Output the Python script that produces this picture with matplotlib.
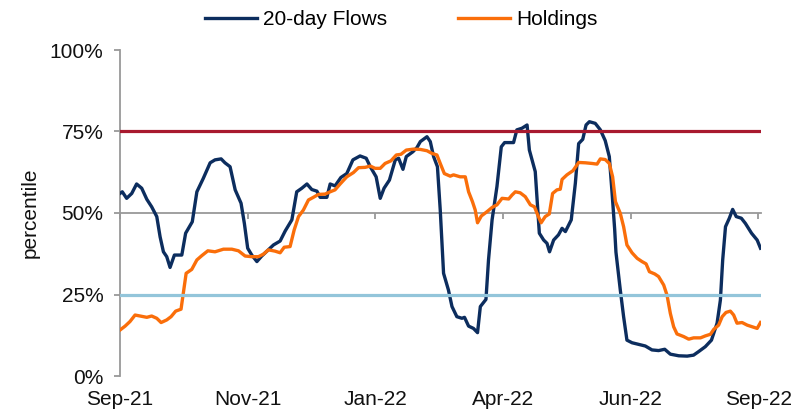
import matplotlib
matplotlib.use("Agg")
import matplotlib.pyplot as plt
from matplotlib.ticker import FuncFormatter

plt.rcParams['font.family'] = ['Liberation Sans', 'DejaVu Sans']

# ---- data (x = trading-day index, y = percentile %) ----
tick_pos = [0, 50, 100, 150, 200, 250]
tick_labels = ["Sep-21", "Nov-21", "Jan-22", "Apr-22", "Jun-22", "Sep-22"]

flows_x = [0, 0.9, 2.6, 4.6, 6.5, 8.5, 10.5, 12.4, 14.4, 15.7, 17, 18.3, 19.6, 21.3, 24.2,
           25.7, 28.3, 30.1, 32.6, 35.3, 37.2, 39.6, 41.1, 43.1, 45.1, 47.4, 48.7, 50, 51.6,
           53.6, 55.5, 58.1, 60.1, 62.7, 64.7, 67.3, 69.2, 71.2, 73.2, 75.1, 77.1, 78.4, 81,
           82.3, 84.2, 86.5, 88.8, 91.2, 94, 96.4, 98, 100.3, 101.9, 103.4, 105.5, 107.8,
           109.1, 110.8, 112.1, 114.7, 116.3, 117.6, 120.2, 121.5, 122.8, 124.3, 125.4, 126.7,
           128.6, 130, 131.9, 133.9, 134.9, 136.5, 138.4, 140, 141.1, 143.3, 144.3, 145.7,
           147.6, 149.3, 150.6, 154.1, 155.4, 157.4, 159.4, 160.3, 162.6, 164.2, 165.9, 167.2,
           168.2, 169.8, 171.7, 173.1, 174.4, 176.7, 178.3, 179.6, 181.2, 182.5, 183.8, 186.1,
           188.1, 190, 191.6, 192.7, 193.7, 194.2, 195.9, 197.2, 198.5, 200.5, 203.1, 205.7,
           208.3, 210.9, 213.3, 215.5, 218.8, 222.1, 224.6, 226.6, 229.2, 231.6, 233.8, 235.1,
           236, 237.1, 238.6, 239.9, 241.3, 243.3, 244.9, 247.3, 249.5, 250.8]
flows_y = [56.0, 56.5, 54.5, 56.0, 58.9, 57.6, 54.2, 51.9, 48.9, 42.7, 38.1, 36.6, 33.3, 37.1, 37.1,
           43.8, 47.3, 56.5, 60.6, 65.4, 66.3, 66.6, 65.4, 64.2, 57.1, 53.0, 46.8, 39.2, 37.1,
           35.1, 36.8, 38.7, 40.2, 41.4, 44.5, 47.9, 56.5, 57.6, 58.9, 57.2, 56.7, 54.8, 54.8,
           58.9, 58.3, 60.9, 62.1, 66.3, 67.5, 66.8, 64.2, 61.1, 54.5, 57.6, 60.1, 66.3,
           66.8, 63.4, 67.3, 68.8, 70.1, 71.9, 73.4, 71.9, 67.3, 64.2, 50.9, 31.5,
           26.4, 21.3, 18.2, 17.7, 18.0, 15.3, 14.6, 13.3, 21.3, 23.5, 35.6, 47.9,
           58.1, 70.3, 71.6, 71.6, 75.5, 76.0, 77.0, 69.3, 62.7, 43.8, 41.7, 40.7,
           38.1, 41.7, 43.3, 45.3, 44.3, 47.9, 59.1, 71.3, 72.6, 77.0, 78.0, 77.5,
           75.5, 72.2, 67.3, 56.0, 45.0, 38.0, 26.4, 18.2, 11.0, 10.2, 9.7, 9.2,
           8.0, 7.8, 8.2, 6.7, 6.2, 6.1, 6.4, 7.5, 9.0, 11.0, 16.2, 23.3,
           35.6, 45.8, 48.4, 51.1, 48.9, 48.4, 46.8, 43.8, 41.7, 39.2]

hold_x = [0, 2, 3.9, 5.9, 7.8, 10.5, 12.4, 14.4, 16.1, 18.3, 20, 21.8, 23.9, 24.8, 25.9, 28.1,
          30.1, 32, 34.4, 37.2, 40.5, 43.8, 46.4, 49, 51.6, 54.2, 56.2, 58.1, 60.7, 62.7, 64.3,
          66.6, 68.2, 69.9, 71.8, 73.8, 75.7, 77.7, 80.3, 82.3, 84.2, 86.2, 88.8, 91.4, 93.4,
          96, 98, 99.9, 101.9, 103.8, 106.1, 108.2, 110, 112.1, 114.9, 117.6, 120.2, 122.1,
          124.1, 125.4, 127, 129.3, 130.6, 133.2, 135.2, 136.5, 138, 139.1, 140, 141.5, 143.7,
          145.7, 147.6, 149.6, 152.2, 153.5, 154.8, 156.7, 158.7, 160.7, 162.3, 163.3, 164.9,
          166.5, 168.1, 169.4, 171.1, 172.4, 173.1, 175, 177.4, 179.6, 182.2, 184.8, 186.8,
          188.1, 190, 191.6, 192.9, 194, 195.9, 197.2, 198.5, 200.5, 202.5, 204.4, 206, 207.3,
          209.4, 210.9, 212.9, 214.2, 215.5, 216.8, 218.1, 220.7, 222.7, 224.6, 227.3, 229.2,
          231.2, 232.5, 234.4, 235.8, 237.3, 239, 240.3, 241.6, 243.6, 245.6, 247.5, 249.5, 250.8]
hold_y = [14.1, 15.3, 16.7, 18.7, 18.4, 18.0, 18.4, 17.7, 16.4, 17.2, 18.2, 19.9, 20.5, 25.4, 31.5,
          32.7, 35.6, 36.9, 38.4, 38.1, 38.9, 38.9, 38.4, 36.8, 36.6, 36.6, 37.4, 38.7, 38.3, 37.8,
          39.5, 39.7, 44.8, 48.9, 50.9, 54.0, 54.8, 55.7, 55.8, 56.5, 57.1, 58.9, 61.1, 62.4,
          63.9, 64.0, 64.4, 63.7, 63.7, 65.2, 66.0, 67.8, 68.0, 69.3, 69.6, 69.5, 69.1, 68.3,
          67.8, 65.2, 62.1, 61.3, 61.7, 61.1, 61.1, 56.5, 53.5, 50.9, 47.0, 49.1, 50.4,
          51.7, 52.5, 54.5, 54.3, 55.5, 56.5, 56.2, 55.0, 52.5, 51.9, 49.9, 47.0,
          48.9, 49.7, 56.0, 57.1, 57.3, 60.3, 61.7, 63.0, 65.5, 65.4, 65.2, 65.0,
          66.6, 66.4, 65.2, 61.1, 53.5, 49.9, 45.8, 40.2, 37.8, 36.1, 35.1, 34.4, 32.0,
          31.3, 30.5, 27.9, 24.8, 19.2, 15.1, 12.9, 12.1, 11.3, 11.7, 11.7, 12.3,
          12.8, 14.3, 15.6, 18.2, 19.5, 19.9, 18.7, 16.2, 16.4, 15.6, 15.1, 14.6, 16.4]

upper_level = 75
lower_level = 25

# ---- figure ----
fig = plt.figure(figsize=(8.07, 4.13), dpi=100)
ax = fig.add_axes([120 / 807, 1 - 376 / 413, (761 - 120) / 807, (376 - 50) / 413])

navy = "#0C2D5E"
orange = "#FA6E0A"
l1, = ax.plot(flows_x, flows_y, color=navy, lw=2.4, zorder=3, solid_joinstyle='round',
              label="20-day Flows")
l2, = ax.plot(hold_x, hold_y, color=orange, lw=2.4, zorder=4, solid_joinstyle='round',
              label="Holdings")
ax.axhline(upper_level, color="#A8192F", lw=2.3, zorder=5)
ax.axhline(lower_level, color="#93C5DA", lw=2.3, zorder=5)

ax.set_xlim(0, 251)
ax.set_ylim(0, 100)

grey = "#999999"
for s in ["top", "right"]:
    ax.spines[s].set_visible(False)
ax.spines["left"].set_color(grey)
ax.spines["left"].set_linewidth(1.3)
ax.spines["bottom"].set_position(("data", 50))
ax.spines["bottom"].set_color(grey)
ax.spines["bottom"].set_linewidth(1.3)
ax.spines["bottom"].set_zorder(2)

ax.set_yticks([0, 25, 50, 75, 100])
ax.yaxis.set_major_formatter(FuncFormatter(lambda v, p: f"{v:.0f}%"))
ax.tick_params(axis="y", direction="out", length=4, width=1.3, color=grey,
               labelsize=15, pad=8, labelcolor="#111111")
ax.set_xticks(tick_pos)
ax.tick_params(axis="x", direction="out", length=4, width=1.3, color=grey,
               labelbottom=False)

sec = ax.secondary_xaxis(0)
sec.set_xticks(tick_pos)
sec.set_xticklabels(tick_labels)
sec.tick_params(length=0, labelsize=15, pad=10, labelcolor="#111111")
sec.spines["bottom"].set_visible(False)

ax.set_ylabel("percentile", fontsize=15, labelpad=7, color="#111111")

fig.legend(handles=[l1, l2], loc="upper center", bbox_to_anchor=(0.497, 1.02), ncol=2,
           frameon=False, fontsize=15, handlelength=2.5, handletextpad=0.3,
           columnspacing=3.4)

fig.savefig("out.png", dpi=100)
